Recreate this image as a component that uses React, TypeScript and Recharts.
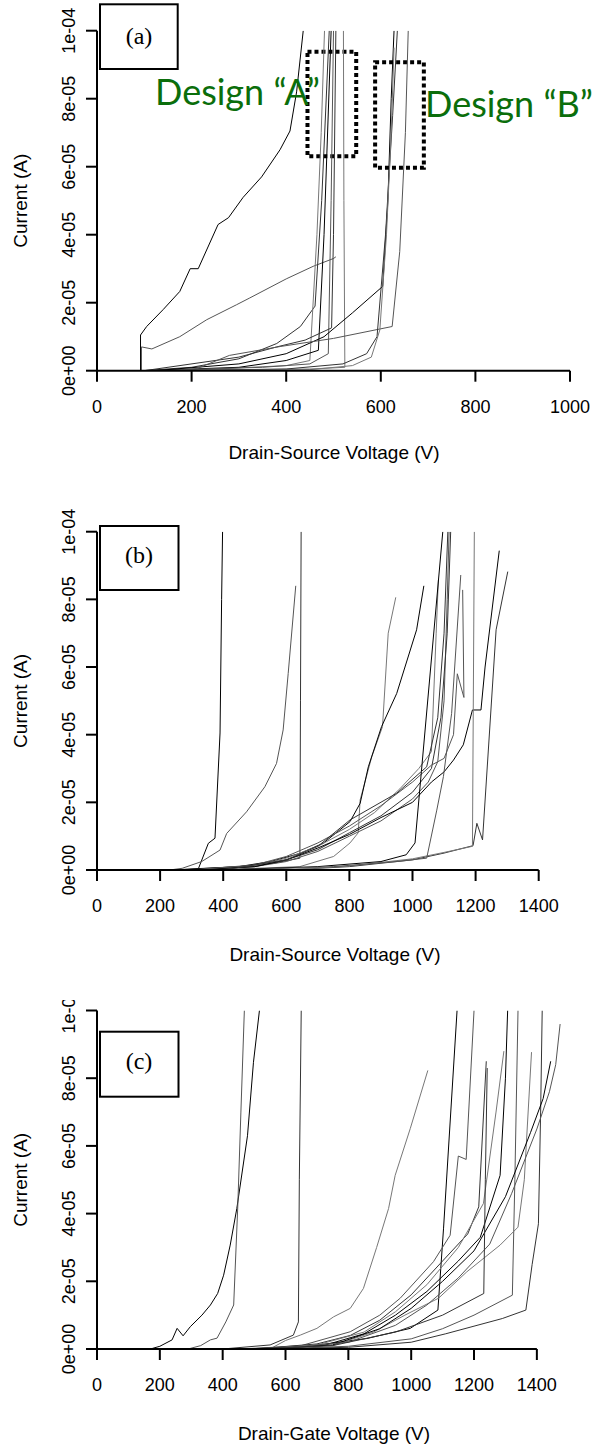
import React from "react";
import { LineChart, Line, XAxis, YAxis, ReferenceArea, ReferenceLine } from "recharts";

// current values are in units of 1e-5 A
const yTicks = [0, 2, 4, 6, 8, 10];
const yTickLabels = ["0e+00", "2e-05", "4e-05", "6e-05", "8e-05", "1e-04"];
const xTicksA = [0, 200, 400, 600, 800, 1000];
const xTicksBC = [0, 200, 400, 600, 800, 1000, 1200, 1400];

// ---- panel (a): Drain-Source, designs A and B
const a1 = [[92, 0], [92, 1.05], [105, 1.3], [140, 1.8], [175, 2.33], [197, 3.0], [214, 3.0], [256, 4.3], [278, 4.5], [309, 5.1], [348, 5.7], [387, 6.5], [408, 7.05], [422, 8.2], [436, 10]];
const a2 = [[94, 0], [94, 0.7], [116, 0.64], [175, 1.0], [232, 1.5], [295, 1.94], [323, 2.14], [400, 2.7], [457, 3.07], [500, 3.3], [505, 3.35]];
const a3 = [[95, 0], [200, 0.1], [300, 0.35], [380, 0.8], [430, 1.3], [461, 1.9], [475, 5], [491, 10]];
const a4 = [[95, 0], [250, 0.05], [400, 0.15], [450, 0.3], [465, 4], [474, 7], [481, 10]];
const a5 = [[100, 0], [300, 0.1], [400, 0.3], [468, 0.6], [480, 4], [495, 10]];
const a6 = [[100, 0], [350, 0.1], [450, 0.2], [489, 0.5], [495, 5], [500, 10]];
const a7 = [[100, 0], [300, 0.4], [380, 0.7], [440, 0.9], [496, 1.26], [500, 4], [505, 10]];
const a8 = [[100, 0], [450, 0.05], [524, 0.1], [522, 5], [521, 10]];
const a9 = [[120, 0], [300, 0.2], [400, 0.5], [480, 1.0], [540, 1.7], [604, 2.48], [615, 5], [622, 8], [628, 10]];
const a10 = [[200, 0], [280, 0.45], [387, 0.71], [500, 0.95], [624, 1.3], [640, 3.5], [652, 7], [658, 10]];
const a11 = [[150, 0], [400, 0.05], [520, 0.2], [570, 0.5], [592, 1.0], [610, 4], [625, 7.5], [635, 10]];
const a12 = [[150, 0], [450, 0.03], [540, 0.15], [580, 0.4], [598, 1.2], [612, 4], [622, 7], [628, 9.5]];
const seriesA = [a1, a2, a3, a4, a5, a6, a7, a8, a9, a10, a11, a12];

// ---- panel (b): Drain-Source
const b1 = [[263, 0], [321, 0.03], [353, 0.79], [374, 0.94], [390, 4.05], [395, 8], [398, 10]];
const b2 = [[230, 0], [270, 0.05], [332, 0.25], [390, 0.59], [411, 1.08], [474, 1.72], [532, 2.46], [569, 3.15], [590, 4.14], [606, 5.81], [630, 8.4]];
const b3 = [[230, 0], [450, 0.1], [560, 0.2], [643, 0.35], [645, 5], [647, 10]];
const b4 = [[250, 0], [500, 0.05], [643, 0.1], [750, 0.4], [802, 0.8], [828, 1.1], [834, 2.07], [871, 3.35], [905, 4.24], [923, 7.0], [947, 8.06]];
const b5 = [[250, 0], [450, 0.1], [550, 0.25], [643, 0.49], [717, 0.79], [802, 1.43], [834, 1.97], [860, 3.05], [902, 4.24], [950, 5.22], [1013, 7.1], [1036, 8.4]];
const b6 = [[300, 0], [500, 0.1], [600, 0.25], [700, 0.55], [800, 1.0], [900, 1.45], [1000, 2.1], [1050, 2.6], [1080, 3.2], [1100, 5], [1110, 8], [1116, 10]];
const b7 = [[300, 0], [500, 0.1], [600, 0.3], [700, 0.6], [800, 1.1], [900, 1.6], [1000, 2.3], [1060, 3.0], [1090, 4.5], [1110, 7], [1121, 10]];
const b8 = [[300, 0], [500, 0.12], [600, 0.35], [700, 0.7], [800, 1.2], [880, 1.7], [960, 2.4], [1020, 3.0], [1060, 3.5], [1075, 7], [1082, 8.57]];
const b9 = [[300, 0], [500, 0.1], [600, 0.3], [700, 0.65], [800, 1.05], [900, 1.55], [1000, 2.0], [1060, 2.6], [1100, 2.9], [1130, 3.25], [1161, 3.7], [1190, 4.73], [1217, 4.73], [1230, 6.0], [1275, 9.44]];
const b10 = [[300, 0], [500, 0.15], [600, 0.4], [700, 0.8], [800, 1.3], [900, 1.9], [1000, 2.6], [1060, 3.1], [1100, 3.3], [1130, 4.0], [1142, 5.8], [1163, 5.1], [1159, 8.28]];
const b11 = [[600, 0], [800, 0.1], [1000, 0.3], [1100, 0.5], [1192, 0.72], [1204, 1.38], [1222, 0.89], [1265, 7.1], [1302, 8.82]];
const b12 = [[600, 0], [800, 0.12], [1000, 0.33], [1100, 0.52], [1190, 0.7], [1196, 10]];
const b13 = [[400, 0], [700, 0.1], [900, 0.25], [980, 0.45], [1008, 0.8], [1096, 10]];
const b14 = [[450, 0], [750, 0.1], [950, 0.25], [1045, 0.35], [1077, 1.77], [1098, 2.76], [1124, 4.63], [1153, 8.72]];
const b15 = [[400, 0], [600, 0.3], [700, 0.7], [802, 1.48], [950, 2.27], [1045, 3.05], [1080, 4.5], [1100, 7], [1112, 10]];
const seriesB = [b1, b2, b3, b4, b5, b6, b7, b8, b9, b10, b11, b12, b13, b14, b15];

// ---- panel (c): Drain-Gate
const c1 = [[170, 0], [200, 0.08], [239, 0.27], [255, 0.61], [274, 0.39], [297, 0.66], [334, 1.0], [361, 1.3], [384, 1.64], [403, 2.18], [424, 3.07], [445, 4.15], [479, 6.3], [498, 8.47], [517, 10]];
const c2 = [[290, 0], [330, 0.1], [361, 0.27], [382, 0.32], [410, 0.8], [435, 1.3], [448, 4.2], [458, 7], [469, 10]];
const c3 = [[400, 0], [551, 0.12], [625, 0.41], [641, 0.8], [644, 5], [650, 10]];
const c4 = [[450, 0], [560, 0.05], [600, 0.25], [647, 0.41], [700, 0.61], [753, 0.95], [806, 1.2], [848, 1.79], [890, 3], [928, 4.15], [949, 5.13], [997, 6.51], [1053, 8.23]];
const c5 = [[450, 0], [647, 0.05], [859, 0.31], [997, 0.61], [1085, 1.15], [1103, 3.57], [1146, 10]];
const c6 = [[480, 0], [650, 0.1], [806, 0.51], [900, 1.0], [965, 1.5], [1071, 2.58], [1124, 3.36], [1150, 5.7], [1175, 5.6], [1200, 10]];
const c7 = [[500, 0], [700, 0.15], [806, 0.4], [900, 0.85], [1000, 1.6], [1100, 2.6], [1180, 3.4], [1215, 4.2], [1239, 8.5]];
const c8 = [[520, 0], [700, 0.12], [850, 0.5], [950, 1.1], [1050, 1.9], [1150, 3.0], [1230, 4.3], [1270, 7.0], [1295, 8.8]];
const c9 = [[520, 0], [720, 0.1], [850, 0.45], [950, 1.0], [1050, 1.7], [1150, 2.6], [1220, 3.3], [1283, 5.13], [1300, 8], [1307, 10]];
const c10 = [[550, 0], [800, 0.08], [1000, 0.3], [1100, 0.6], [1200, 1.0], [1322, 1.59], [1330, 5], [1340, 10]];
const c11 = [[560, 0], [800, 0.05], [1000, 0.2], [1110, 0.45], [1290, 0.9], [1365, 1.15], [1385, 2.5], [1405, 3.7], [1412, 7], [1417, 10]];
const c12 = [[540, 0], [750, 0.1], [880, 0.5], [980, 1.0], [1087, 1.5], [1177, 2.28], [1283, 3.07], [1340, 3.6], [1360, 5], [1383, 8.77]];
const c13 = [[540, 0], [750, 0.12], [900, 0.6], [1000, 1.2], [1100, 2.0], [1200, 2.9], [1300, 4.5], [1380, 6.4], [1420, 7.4], [1444, 8.5]];
const c14 = [[550, 0], [800, 0.2], [950, 0.7], [1050, 1.3], [1150, 2.1], [1250, 3.1], [1320, 4.6], [1400, 6.5], [1440, 7.6], [1460, 8.4], [1474, 9.6]];
const c15 = [[500, 0], [750, 0.1], [950, 0.5], [1100, 1.0], [1231, 1.64], [1236, 5], [1242, 8.3]];
const seriesC = [c1, c2, c3, c4, c5, c6, c7, c8, c9, c10, c11, c12, c13, c14, c15];

const LINE_COLORS = ["#000000", "#555555", "#333333", "#777777"];
const FONT = "'Liberation Sans', Arial, sans-serif";

const toRows = (pts: number[][]) => pts.map(([v, u]) => ({ v, u }));

const XTick = ({ x, y, payload }: any) => (
	<text x={x} y={y + 29} textAnchor="middle" fontSize={18} fontFamily={FONT} fill="#000">
		{payload.value}
	</text>
);

const YTick = ({ x, y, payload }: any) => {
	const bx = x - 9;
	return (
		<text
			x={bx}
			y={y}
			transform={`rotate(-90 ${bx} ${y})`}
			textAnchor="middle"
			fontSize={18}
			fontFamily={FONT}
			fill="#000"
		>
			{yTickLabels[yTicks.indexOf(payload.value)]}
		</text>
	);
};

interface PanelProps {
	top: number;
	height: number;
	series: number[][][];
	xMax: number; // end of the plotting region
	xAxisEnd: number; // last tick, where the axis line stops
	xTicks: number[];
	margin: { top: number; right: number; bottom: number; left: number };
	children?: React.ReactNode;
}

function Panel({ top, height, series, xMax, xAxisEnd, xTicks, margin, children }: PanelProps) {
	return (
		<div style={{ position: "absolute", left: 0, top, width: 601, height, overflow: "hidden" }}>
			<LineChart width={601} height={height} margin={margin}>
				<XAxis
					type="number"
					dataKey="v"
					domain={[0, xMax]}
					ticks={xTicks}
					allowDataOverflow
					height={40}
					tickSize={11}
					axisLine={false}
					tickLine={{ stroke: "#000", strokeWidth: 2 }}
					tick={<XTick />}
				/>
				<YAxis
					type="number"
					domain={[0, 10]}
					ticks={yTicks}
					allowDataOverflow
					width={97}
					tickSize={11}
					axisLine={{ stroke: "#000", strokeWidth: 2 }}
					tickLine={{ stroke: "#000", strokeWidth: 2 }}
					tick={<YTick />}
				/>
				{series.map((s, i) => (
					<Line
						key={i}
						data={toRows(s)}
						dataKey="u"
						type="linear"
						stroke={LINE_COLORS[i % LINE_COLORS.length]}
						strokeWidth={1}
						dot={false}
						isAnimationActive={false}
					/>
				))}
				<ReferenceLine
					segment={[{ x: 0, y: 0 }, { x: xAxisEnd, y: 0 }]}
					stroke="#000"
					strokeWidth={2}
					ifOverflow="visible"
				/>
				{children}
			</LineChart>
		</div>
	);
}

const textStyle = { fontFamily: FONT, fontSize: 19, fill: "#000" };
const serif = "'Liberation Serif', 'Times New Roman', serif";
const designFont = "Lato, 'Open Sans', sans-serif";

export default function App() {
	return (
		<div style={{ position: "absolute", left: 0, top: 0, width: 601, height: 1445, background: "#fff" }}>
			<Panel
				top={0}
				height={470}
				series={seriesA}
				xMax={1000}
				xAxisEnd={1000}
				xTicks={xTicksA}
				margin={{ top: 30.7, right: 31, bottom: 59.3, left: 0 }}
			>
				<ReferenceArea x1={445} x2={548} y1={6.31} y2={9.38} fill="none" stroke="#000" strokeWidth={4} strokeDasharray="4 3" />
				<ReferenceArea x1={588} x2={691} y1={5.97} y2={9.07} fill="none" stroke="#000" strokeWidth={4} strokeDasharray="4 3" />
			</Panel>
			<Panel
				top={490}
				height={500}
				series={seriesB}
				xMax={1400}
				xAxisEnd={1400}
				xTicks={xTicksBC}
				margin={{ top: 41.7, right: 62.3, bottom: 80, left: 0 }}
			/>
			<Panel
				top={1000}
				height={445}
				series={seriesC}
				xMax={1480}
				xAxisEnd={1400}
				xTicks={xTicksBC}
				margin={{ top: 10.5, right: 39, bottom: 56, left: 0 }}
			/>
			<svg
				width={601}
				height={1445}
				style={{ position: "absolute", left: 0, top: 0, pointerEvents: "none" }}
			>
				{/* axis titles */}
				<text x={27} y={200.7} transform="rotate(-90 27 200.7)" textAnchor="middle" {...textStyle}>Current (A)</text>
				<text x={27} y={700.9} transform="rotate(-90 27 700.9)" textAnchor="middle" {...textStyle}>Current (A)</text>
				<text x={27} y={1179.8} transform="rotate(-90 27 1179.8)" textAnchor="middle" {...textStyle}>Current (A)</text>
				<text x={334} y={459} textAnchor="middle" {...textStyle}>Drain-Source Voltage (V)</text>
				<text x={335} y={961} textAnchor="middle" {...textStyle}>Drain-Source Voltage (V)</text>
				<text x={334} y={1440} textAnchor="middle" {...textStyle}>Drain-Gate Voltage (V)</text>

				{/* panel labels */}
				<rect x={100} y={4.3} width={77.7} height={64.7} fill="#fff" stroke="#000" strokeWidth={2} />
				<text x={139} y={44} textAnchor="middle" fontFamily={serif} fontSize={24}>(a)</text>
				<rect x={100} y={526} width={78.5} height={64} fill="#fff" stroke="#000" strokeWidth={2} />
				<text x={139} y={563} textAnchor="middle" fontFamily={serif} fontSize={24}>(b)</text>
				<rect x={100} y={1031.7} width={78.5} height={65} fill="#fff" stroke="#000" strokeWidth={2} />
				<text x={139} y={1069} textAnchor="middle" fontFamily={serif} fontSize={24}>(c)</text>

				{/* design annotations */}
				<text x={155} y={105} fontFamily={designFont} fontSize={36} fill="#0b6e0b">Design “A”</text>
				<text x={425} y={117} fontFamily={designFont} fontSize={36} fill="#0b6e0b">Design “B”</text>
			</svg>
		</div>
	);
}
